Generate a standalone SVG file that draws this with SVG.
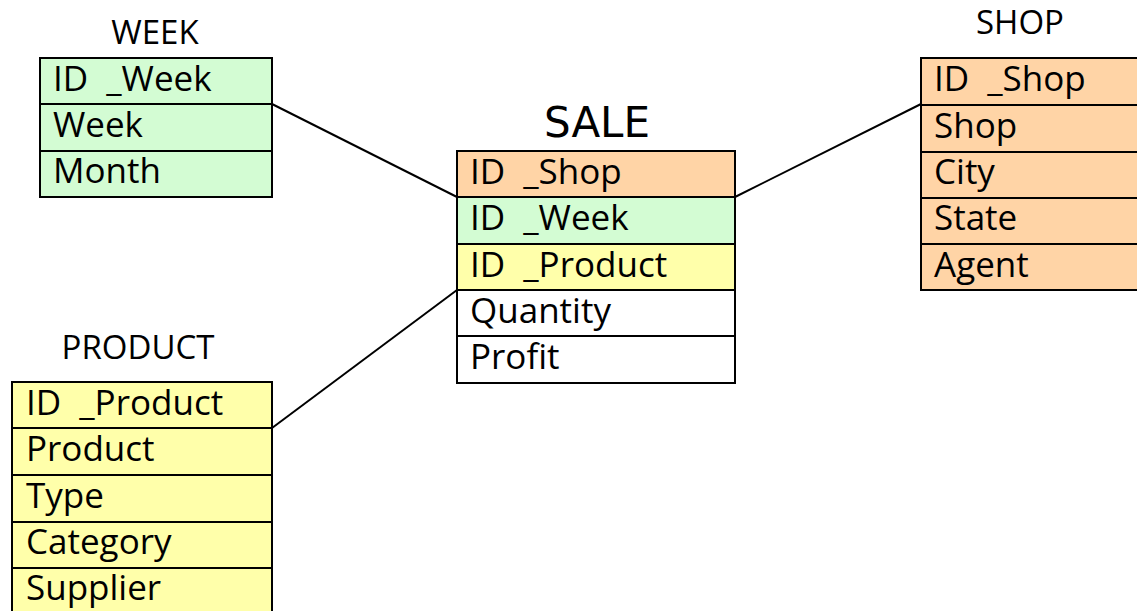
<svg xmlns="http://www.w3.org/2000/svg" width="1137" height="611" viewBox="0 0 1137 611">
<style>
.cell{stroke:#000;stroke-width:2}
.g{fill:#d3fcd3}
.o{fill:#ffd4a6}
.y{fill:#ffffaa}
.w{fill:#fff}
.t{font-family:"Open Sans","Liberation Sans",sans-serif;font-size:35px;fill:#000}
.k{word-spacing:9px}
.h{font-family:"Open Sans","Liberation Sans",sans-serif;font-size:33px;fill:#000;text-anchor:middle}
.conn{stroke:#000;stroke-width:2;fill:none}
</style>
<rect width="1137" height="611" fill="#fff"/>
<g id="connectors">
<line class="conn" x1="272" y1="104" x2="457" y2="197"/>
<line class="conn" x1="735" y1="197" x2="921" y2="104"/>
<line class="conn" x1="272" y1="428" x2="457" y2="290"/>
</g>
<g id="week">
<text class="h" x="155" y="44">WEEK</text>
<rect class="cell g" x="40" y="58" width="232" height="46"/>
<rect class="cell g" x="40" y="104" width="232" height="47"/>
<rect class="cell g" x="40" y="151" width="232" height="46"/>
<text class="t k" x="53" y="91">ID _Week</text>
<text class="t" x="53" y="137">Week</text>
<text class="t" x="53" y="183">Month</text>
</g>
<g id="sale">
<text x="597" y="137" style="font-family:'DejaVu Sans',sans-serif;font-size:42px;text-anchor:middle">SALE</text>
<rect class="cell o" x="457" y="151" width="278" height="46"/>
<rect class="cell g" x="457" y="197" width="278" height="47"/>
<rect class="cell y" x="457" y="244" width="278" height="46"/>
<rect class="cell w" x="457" y="290" width="278" height="46"/>
<rect class="cell w" x="457" y="336" width="278" height="47"/>
<text class="t k" x="470" y="184">ID _Shop</text>
<text class="t k" x="470" y="230">ID _Week</text>
<text class="t k" x="470" y="277">ID _Product</text>
<text class="t" x="470" y="323">Quantity</text>
<text class="t" x="470" y="369">Profit</text>
</g>
<g id="shop">
<text class="h" x="1020" y="34">SHOP</text>
<rect class="cell o" x="921" y="58" width="230" height="47"/>
<rect class="cell o" x="921" y="105" width="230" height="47"/>
<rect class="cell o" x="921" y="152" width="230" height="46"/>
<rect class="cell o" x="921" y="198" width="230" height="46"/>
<rect class="cell o" x="921" y="244" width="230" height="46"/>
<text class="t k" x="934" y="91">ID _Shop</text>
<text class="t" x="934" y="138">Shop</text>
<text class="t" x="934" y="184">City</text>
<text class="t" x="934" y="230">State</text>
<text class="t" x="934" y="277">Agent</text>
</g>
<g id="product">
<text class="h" x="138" y="359">PRODUCT</text>
<rect class="cell y" x="12" y="382" width="260" height="46"/>
<rect class="cell y" x="12" y="428" width="260" height="47"/>
<rect class="cell y" x="12" y="475" width="260" height="47"/>
<rect class="cell y" x="12" y="522" width="260" height="46"/>
<rect class="cell y" x="12" y="568" width="260" height="60"/>
<text class="t k" x="26" y="415">ID _Product</text>
<text class="t" x="26" y="461">Product</text>
<text class="t" x="26" y="508">Type</text>
<text class="t" x="26" y="554">Category</text>
<text class="t" x="26" y="600">Supplier</text>
</g>
</svg>
